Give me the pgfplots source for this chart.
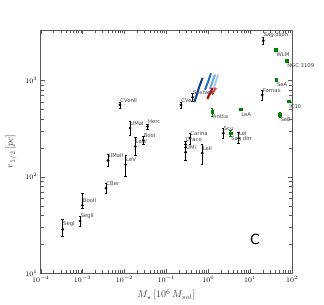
\documentclass[border=0pt]{standalone}
\usepackage{pgfplots}
\usepackage{pgfplotstable}
\usepackage{fontspec}
\pgfplotsset{compat=1.18}
\newfontfamily\lblfont{DejaVu Sans}
\definecolor{mgreen}{rgb}{0,0.5,0}
\definecolor{lblgray}{rgb}{0.25,0.25,0.25}
\definecolor{tA}{rgb}{0.03,0.25,0.58}
\definecolor{tB}{rgb}{0.13,0.44,0.76}
\definecolor{tC}{rgb}{0.42,0.66,0.88}
\definecolor{tD}{rgb}{0.66,0.8,0.93}
\definecolor{rA}{rgb}{0.65,0.05,0.1}
\definecolor{rB}{rgb}{0.88,0.3,0.3}

\pgfplotstableread{
x y ep em label
3.35e-4 28.4 8.2 4.4 SegI
8.7e-4 34.7 4.0 3.7 SegII
9.9e-4 50.4 16.3 3.8 BooII
3.62e-3 76.2 9.8 8.6 CBer
4.05e-3 148 23 20 UMaII
0.0107 134 35 33 LeV
0.01815 206 52 40 LeIV
0.01355 320 55 52 UMaI
0.0282 240 22 23 BooI
0.0358 333 16 18 Herc
7.8e-3 559 37 40 CVenII
0.223 559 37 40 CVenI
0.425 671 68 61 Sextans
0.366 252 32 32 Carina
0.289 217 15 15 Draco
0.289 180 37 30 UMi
0.72 176 41 42 LeII
2.29 284 39 30 Scu
5.32 252 39 29 LeI
19.5 710 90 80 Fornax
20.6 2600 220 200 Sag.dsph
}\blackdata

\pgfplotstableread{
x y ep em label
1.25 476 44 53 Antlia
5.93 504 0 0 LeA
3.43 284 22 22 {Sag dIrr}
41.4 2100 0 0 WLM
74.3 1615 0 0 {NGC 3109}
42.2 1023 0 0 SeA
83 610 0 0 IC10
51.5 440 30 25 SeB
}\greendata

\begin{document}
\begin{tikzpicture}
\begin{axis}[
  scale only axis,
  width=251.3bp, height=243bp,
  xmode=log, ymode=log,
  xmin=1e-4, xmax=1e2,
  ymin=10, ymax=3350,
  xtick={1e-4,1e-3,1e-2,1e-1,1,10,100},
  ytick={10,100,1000},
  axis line style={gray!70!black},
  tick style={gray!70!black},
  tick label style={font=\fontsize{6.8}{7}\selectfont},
  xlabel={$M_\star\,[10^6\,M_{sol}]$},
  ylabel={$r_{1/2}\,[pc]$},
  label style={font=\fontsize{10}{11}\selectfont, text=lblgray},
  ylabel style={yshift=2bp},
  clip=false,
  error bars/error mark options={rotate=90, mark size=1.2pt, line width=0.4pt},
]
\coordinate (bl) at (rel axis cs:0,0);
\coordinate (tr) at (rel axis cs:1,1);

% simulation tracks
\addplot[tA, line width=2bp] coordinates {(0.465,596) (0.528,699) (0.612,866) (0.734,1066)};
\addplot[tB, line width=2bp] coordinates {(0.836,800) (0.986,961) (1.162,1191)};
\addplot[tC, line width=2bp] coordinates {(1.099,819) (1.273,984) (1.448,1153)};
\addplot[tD, line width=2bp] coordinates {(1.371,839) (1.531,984) (1.738,1153)};
\addplot[rA, line width=2.2bp] coordinates {(0.95,646) (1.14,757) (1.27,839)};
\addplot[rB, line width=2.2bp] coordinates {(1.205,716) (1.53,839)};

% black points
\addplot[only marks, mark=*, mark size=1.2pt, black,
  error bars/.cd, y dir=both, y explicit,
  error bar style={black, line width=0.5pt}]
  table[x=x, y=y, y error plus=ep, y error minus=em] {\blackdata};
\addplot[only marks, mark=none, point meta=explicit symbolic,
  nodes near coords, nodes near coords style={anchor=south west,
  font=\lblfont\fontsize{5.3}{6}\selectfont, text=lblgray, inner sep=0pt, xshift=0.3bp, yshift=2.5bp}]
  table[x=x, y=y, meta=label] {\blackdata};

% green points
\addplot[only marks, mark=square*, mark size=1.3pt, mgreen,
  error bars/.cd, y dir=both, y explicit,
  error bar style={mgreen, line width=0.5pt}]
  table[x=x, y=y, y error plus=ep, y error minus=em] {\greendata};
\addplot[only marks, mark=none, point meta=explicit symbolic,
  nodes near coords, nodes near coords style={anchor=north west,
  font=\lblfont\fontsize{5.3}{6}\selectfont, text=lblgray, inner sep=0pt, xshift=0.5bp, yshift=-3bp}]
  table[x=x, y=y, meta=label] {\greendata};

\node[font=\lblfont\fontsize{14}{14}\selectfont, text=black] at (axis cs:13,22.5) {C};
\end{axis}
\pgfresetboundingbox
\path[use as bounding box] ([shift={(-40.7bp,-31bp)}]bl) rectangle ([shift={(32bp,30bp)}]tr);
\end{tikzpicture}
\end{document}
